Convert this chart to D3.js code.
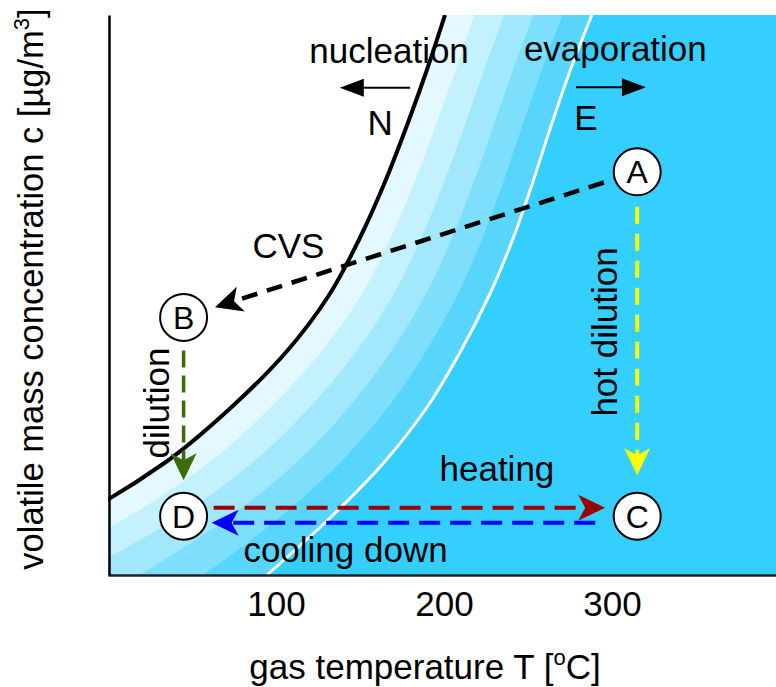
<!DOCTYPE html>
<html>
<head>
<meta charset="utf-8">
<script src="https://cdn.jsdelivr.net/npm/d3@7"></script>
<style>
body { margin: 0; background: #fff; }
svg { display: block; font-family: "Liberation Sans", Arial, sans-serif; }
</style>
</head>
<body>
<svg id="chart"></svg>
<script>
// concentration levels shared by both curves (arbitrary units, 0 = bottom, 100 = top)
var cLevels = [0, 10, 20, 30, 40, 50, 60, 70, 80, 90, 100];
// temperature of the nucleation (black) and evaporation (white) lines at each level
var nucleationT = [-95, -21, 33.6, 73.6, 106.6, 131.6, 149.6, 164.6, 177.6, 189.6, 200.6];
var evaporationT = [94.6, 131.5, 164, 190, 210, 227, 241, 252.7, 263.5, 275, 288];
var xTicks = [100, 200, 300];

// states of the sample
var stateNames = ["A", "B", "C", "D"];
var stateT = [315, 45, 315, 45];
var stateC = [72, 46, 10.5, 10.5];

// process paths between states
var procFrom = ["A", "B", "A", "D", "C"];
var procTo = ["B", "D", "C", "C", "D"];
var procName = ["CVS", "dilution", "hot dilution", "heating", "cooling down"];

var width = 776, height = 687;
var svg = d3.select("#chart").attr("width", width).attr("height", height);

var x = d3.scaleLinear().domain([0, 400]).range([108, 780]);
var y = d3.scaleLinear().domain([0, 100]).range([575, 15]);

svg.append("defs").append("clipPath").attr("id", "plot")
  .append("rect").attr("x", 108).attr("y", 15).attr("width", 668).attr("height", 560);

var plot = svg.append("g").attr("clip-path", "url(#plot)");

// solid region right of evaporation line
plot.append("rect").attr("x", 108).attr("y", 15).attr("width", 668).attr("height", 560)
  .attr("fill", "#35cfff");

// rows top to bottom so y grows along the path
var rows = cLevels.map(function (c, i) { return { c: c, n: nucleationT[i], e: evaporationT[i] }; }).reverse();

// shading bands between the two lines, darkest first
var bandColors = ["#ffffff", "#e4f9ff", "#c4f1fe", "#a2e8fc", "#7edffc", "#58d5fc"];
for (var k = 5; k >= 0; k--) {
  var f = k / 5;
  var edge = d3.line().curve(d3.curveMonotoneY)
    .x(function (d) { return x(d.n + (d.e - d.n) * f); })
    .y(function (d) { return y(d.c); });
  plot.append("path").datum(rows)
    .attr("d", edge(rows) + "L0,575L0,15Z")
    .attr("fill", bandColors[k]);
}

var lineE = d3.line().curve(d3.curveMonotoneY)
  .x(function (d) { return x(d.e); }).y(function (d) { return y(d.c); });
var lineN = d3.line().curve(d3.curveMonotoneY)
  .x(function (d) { return x(d.n); }).y(function (d) { return y(d.c); });

plot.append("path").datum(rows).attr("d", lineE)
  .attr("fill", "none").attr("stroke", "#fff").attr("stroke-width", 3);
plot.append("path").datum(rows).attr("d", lineN)
  .attr("fill", "none").attr("stroke", "#000").attr("stroke-width", 4);

// axes
var xAxis = svg.append("g").attr("transform", "translate(0,575)")
  .call(d3.axisBottom(x).tickValues(xTicks).tickSize(0).tickPadding(16).tickSizeOuter(0));
xAxis.select(".domain").attr("stroke", "#222").attr("stroke-width", 2.5);
xAxis.selectAll("text").attr("font-size", 35).attr("font-family", "Liberation Sans, Arial, sans-serif").attr("fill", "#000");

var yAxis = svg.append("g").attr("transform", "translate(109,0)")
  .call(d3.axisLeft(y).tickValues([]).tickSize(0).tickSizeOuter(0));
yAxis.select(".domain").attr("stroke", "#000").attr("stroke-width", 2.5);

// axis titles
var xt = svg.append("text").attr("x", 425).attr("y", 679).attr("text-anchor", "middle")
  .attr("font-size", 35).text("gas temperature T [");
xt.append("tspan").attr("font-size", 22).attr("dy", -14).text("o");
xt.append("tspan").attr("dy", 14).text("C]");

var yt = svg.append("text").attr("transform", "translate(43,289) rotate(-90)")
  .attr("text-anchor", "middle").attr("font-size", 34.5).text("volatile mass concentration c [µg/m");
yt.append("tspan").attr("font-size", 22).attr("dy", -14).text("3");
yt.append("tspan").attr("dy", 14).text("]");

// process arrows
var procStyle = {
  "CVS":          { color: "#000000", dash: "16,10", w: 4.5, g1: 35, g2: 33, s: 0 },
  "dilution":     { color: "#3b6c0b", dash: "17,8",  w: 3.5, g1: 33, g2: 36, s: 0 },
  "hot dilution": { color: "#ffff00", dash: "17,10", w: 4,   g1: 35, g2: 41, s: 0 },
  "heating":      { color: "#990000", dash: "21,10", w: 4,   g1: 30, g2: 32, s: -8.5 },
  "cooling down": { color: "#0000ff", dash: "21,10", w: 4,   g1: 42, g2: 28, s: -6.5 }
};

function statePos(name) {
  var i = stateNames.indexOf(name);
  return [x(stateT[i]), y(stateC[i])];
}

procName.forEach(function (name, i) {
  var st = procStyle[name];
  var p = statePos(procFrom[i]), q = statePos(procTo[i]);
  var dx = q[0] - p[0], dy = q[1] - p[1], len = Math.sqrt(dx * dx + dy * dy);
  var ux = dx / len, uy = dy / len, nx = -uy, ny = ux;
  var sx = p[0] + ux * st.g1 + nx * st.s, sy = p[1] + uy * st.g1 + ny * st.s;
  var tx = q[0] - ux * st.g2 + nx * st.s, ty = q[1] - uy * st.g2 + ny * st.s;
  var headLen = 27, notch = 20;
  svg.append("line")
    .attr("x1", sx).attr("y1", sy)
    .attr("x2", tx - ux * notch).attr("y2", ty - uy * notch)
    .attr("stroke", st.color).attr("stroke-width", st.w).attr("stroke-dasharray", st.dash);
  var ang = Math.atan2(uy, ux) * 180 / Math.PI;
  svg.append("path")
    .attr("d", "M0,0 L" + (-headLen) + ",-13 L" + (-notch) + ",0 L" + (-headLen) + ",13 Z")
    .attr("transform", "translate(" + tx + "," + ty + ") rotate(" + ang + ")")
    .attr("fill", st.color);
});

// state circles
stateNames.forEach(function (name, i) {
  var g = svg.append("g").attr("transform", "translate(" + x(stateT[i]) + "," + y(stateC[i]) + ")");
  g.append("circle").attr("r", 23.5).attr("fill", "#fff").attr("stroke", "#000").attr("stroke-width", 2);
  g.append("text").attr("text-anchor", "middle").attr("dy", "0.36em").attr("font-size", 32).text(name);
});

// text annotations
function note(t, T, c, rot) {
  var tx = svg.append("text").attr("text-anchor", "middle").attr("font-size", 35).text(t);
  if (rot) tx.attr("transform", "translate(" + x(T) + "," + y(c) + ") rotate(-90)");
  else tx.attr("x", x(T)).attr("y", y(c));
}
note("nucleation", 167.3, 91.4);
note("evaporation", 302, 91.7);
note("N", 162, 78.6);
note("E", 284.5, 79.5);
note("CVS", 107.4, 56.6);
note("heating", 231.5, 16.7);
note("cooling down", 141.4, 2.4);
note("dilution", 36.3, 30.7, true);
note("hot dilution", 303, 43.4, true);

// nucleation / evaporation direction arrows
function dirArrow(T0, T1, c) {
  var x0 = x(T0), x1 = x(T1), yy = y(c), dir = x1 > x0 ? 1 : -1;
  svg.append("line").attr("x1", x0).attr("y1", yy).attr("x2", x1 - dir * 20).attr("y2", yy)
    .attr("stroke", "#000").attr("stroke-width", 2);
  svg.append("path")
    .attr("d", "M" + x1 + "," + yy + " L" + (x1 - dir * 24) + "," + (yy - 9) + " L" + (x1 - dir * 24) + "," + (yy + 9) + " Z")
    .attr("fill", "#000");
}
dirArrow(179.8, 138, 87);
dirArrow(278.6, 320.2, 87.1);
</script>
</body>
</html>
